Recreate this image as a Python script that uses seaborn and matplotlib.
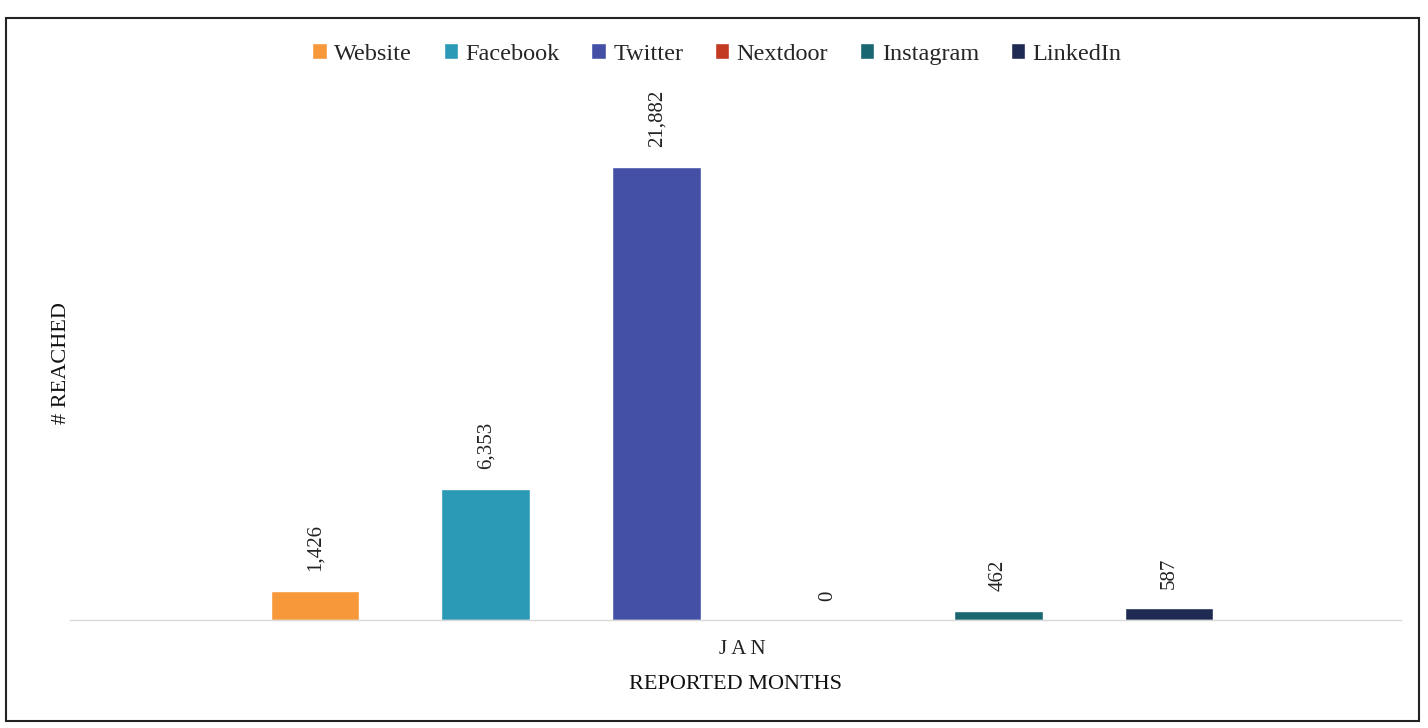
import matplotlib
matplotlib.use("Agg")
import matplotlib.pyplot as plt
import seaborn as sns
import pandas as pd
from matplotlib.patches import Rectangle

months = ["JAN"]
platforms = ["Website", "Facebook", "Twitter", "Nextdoor", "Instagram", "LinkedIn"]
reached = [1426, 6353, 21882, 0, 462, 587]
colors = ["#F7993A", "#2B9AB6", "#4450A6", "#C23A22", "#1A6772", "#1E2A52"]

df = pd.DataFrame({"month": months * len(platforms), "platform": platforms, "reached": reached})

sns.set_theme(style="white")
plt.rcParams["font.family"] = ["Liberation Serif", "DejaVu Serif"]

fig = plt.figure(figsize=(14.28, 7.28), dpi=100)
ax = fig.add_axes([0.049, 0.148, 0.932, 0.706])

sns.barplot(data=df, x="month", y="reached", hue="platform", hue_order=platforms,
            palette=colors, width=0.77, gap=0.48, ax=ax, saturation=1, legend=True)

for cont in ax.containers:
    ax.bar_label(cont, labels=[f"{v:,.0f}" for v in cont.datavalues], rotation=90,
                 padding=14, fontsize=15, color="#222222")

ax.set_xlim(-0.505, 0.495)
ax.set_ylim(0, 24800)
ax.set_yticks([])
for s in ["top", "left", "right"]:
    ax.spines[s].set_visible(False)
ax.spines["bottom"].set_color("#d9d9d9")
ax.spines["bottom"].set_linewidth(1.0)
ax.set_xticks([0])
ax.set_xticklabels(["J A N"], fontsize=15, color="#222222")
ax.tick_params(axis="x", length=0, pad=14)
ax.set_xlabel("REPORTED MONTHS", fontsize=16, color="#111111", labelpad=12)
ax.set_ylabel("# REACHED", fontsize=16, color="#111111", labelpad=-1)

handles, labels = ax.get_legend_handles_labels()
ax.legend(handles, labels, loc="center", bbox_to_anchor=(0.502, 0.926), bbox_transform=fig.transFigure,
          ncol=6, frameon=False, fontsize=17.5, handlelength=0.6, handleheight=0.6,
          handletextpad=0.3, columnspacing=1.3)

fig.patches.append(Rectangle((0.004, 0.01), 0.99, 0.965, transform=fig.transFigure,
                             fill=False, edgecolor="#222222", linewidth=1.5))

fig.savefig("out.png", dpi=100)
